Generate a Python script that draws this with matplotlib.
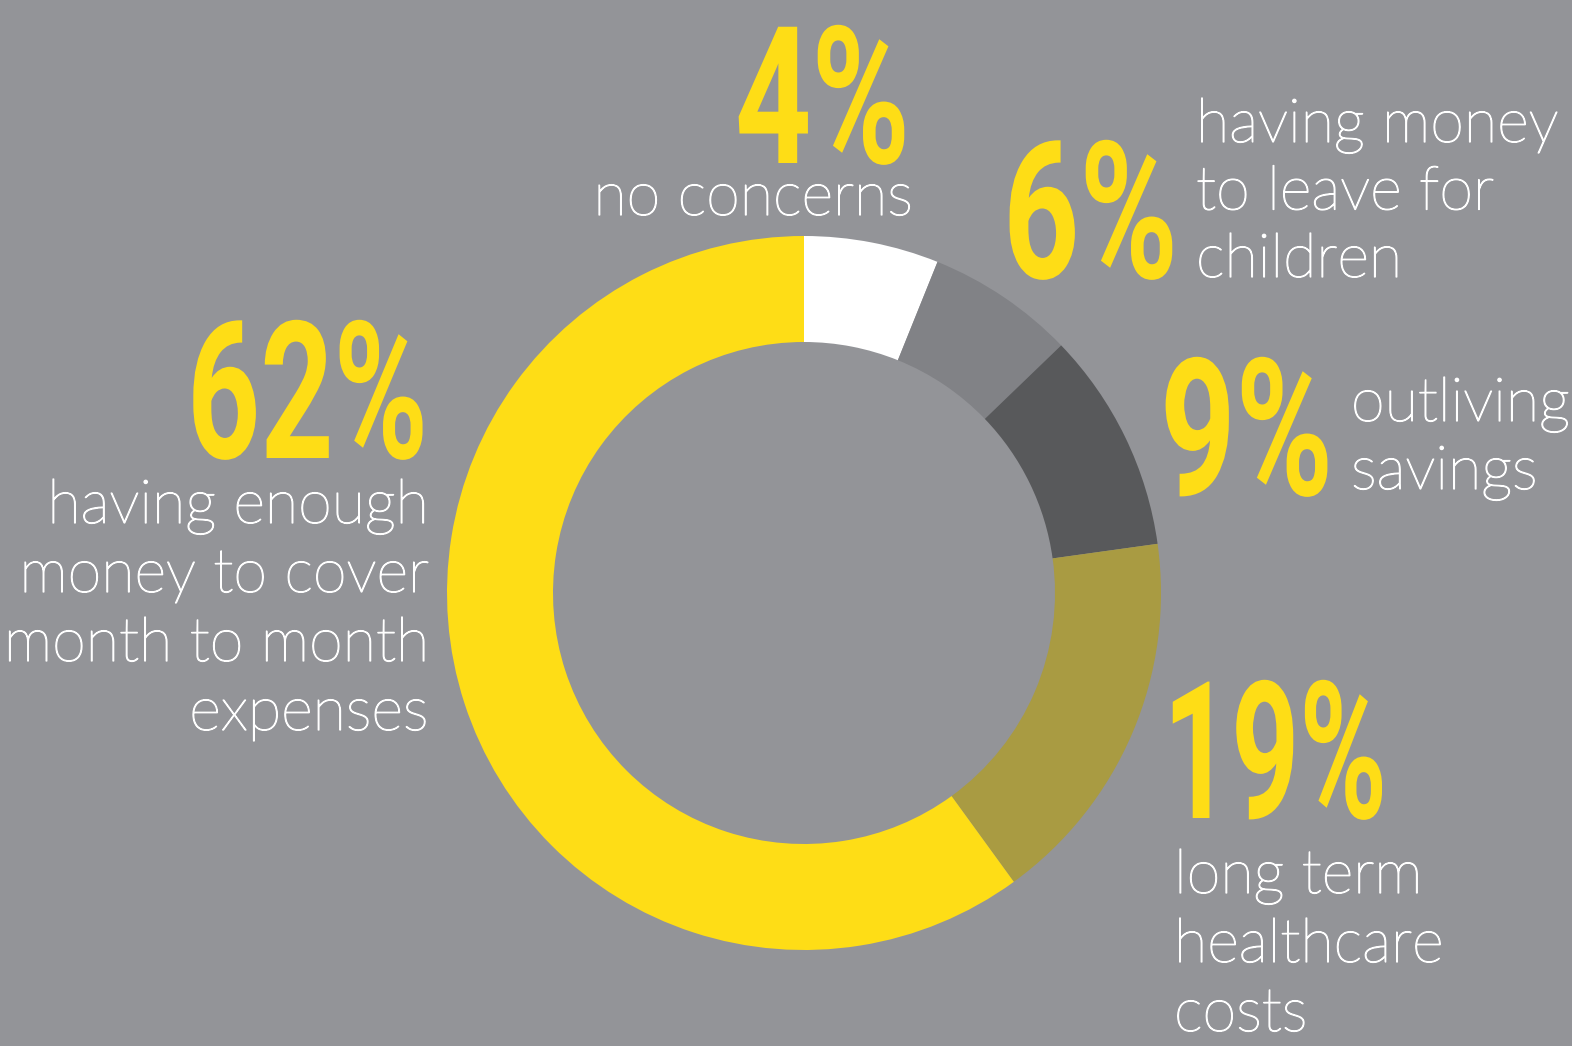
import matplotlib
matplotlib.use('Agg')
import matplotlib.pyplot as plt
from matplotlib import font_manager
from matplotlib import patheffects as pe
from matplotlib.patheffects import AbstractPathEffect
from matplotlib.transforms import Affine2D

# shares as drawn in the ring, clockwise from 12 o'clock
slice_names = ['no concerns', 'leave for children', 'outliving savings',
               'long term healthcare', 'month to month']
slice_share = [6.1, 6.7, 10.0, 17.2, 60.0]
slice_colors = ['#FFFFFF', '#818286', '#58595B', '#A99B42', '#FEDD16']

# printed labels
pct_labels = ['4%', '6%', '9%', '19%', '62%']
desc_labels = [
    ['no concerns'],
    ['having money', 'to leave for', 'children'],
    ['outliving', 'savings'],
    ['long term', 'healthcare', 'costs'],
    ['having enough', 'money to cover', 'month to month', 'expenses'],
]

BG = '#939498'
YELLOW = '#FEDD16'
W, H = 1572, 1046


def pick(cands, light=False):
    names = {}
    for f in font_manager.fontManager.ttflist:
        w = f.weight if isinstance(f.weight, int) else 400
        names.setdefault(f.name, []).append(w)
    for c in cands:
        if c in names:
            if not light or min(names[c]) <= 300:
                return c
    return 'DejaVu Sans'


NUM_FONT = pick(['Roboto', 'Inter', 'Open Sans', 'DejaVu Sans'])
TXT_FONT = pick(['Lato', 'Roboto', 'Inter', 'Open Sans', 'Noto Sans'], light=True)


class Squeeze(AbstractPathEffect):
    # narrows the glyph outlines horizontally around the anchor
    def __init__(self, sx, x0):
        super().__init__()
        self.sx = sx
        self.x0 = x0

    def draw_path(self, renderer, gc, tpath, affine, rgbFace=None):
        t = Affine2D().translate(-self.x0, 0).scale(self.sx, 1).translate(self.x0, 0)
        renderer.draw_path(gc, tpath, affine + t, rgbFace)


fig = plt.figure(figsize=(W / 100, H / 100), dpi=100, facecolor=BG)
ax = fig.add_axes([0, 0, 1, 1])
ax.set_aspect('equal')
ax.axis('off')
ax.set_facecolor(BG)

cx, cy = 804, H - 593
ax.pie(slice_share, colors=slice_colors, startangle=90, counterclock=False,
       center=(cx, cy), radius=357,
       wedgeprops=dict(width=106, linewidth=0, edgecolor='none'))
ax.set_xlim(0, W)
ax.set_ylim(0, H)

# big numbers: (right edge, baseline from top, wanted width)
num_pos = [(910, 163, 175), (1178, 278, 175), (1333, 495, 173),
           (1387, 818, 224), (428, 458, 241)]
num_texts = []
for lab, (xr, yb, wd) in zip(pct_labels, num_pos):
    t = ax.text(xr, H - yb, lab, ha='right', va='baseline', color=YELLOW,
                fontsize=138, fontweight='bold', family=NUM_FONT)
    num_texts.append((t, xr, wd))

# description blocks: (x, first baseline from top, line step, alignment)
desc_pos = [(913, 215, 68, 'right'), (1196, 142, 67.5, 'left'),
            (1351, 421, 68, 'left'), (1174, 893, 69, 'left'),
            (429, 523, 69, 'right')]
thick = [pe.withStroke(linewidth=0.9, foreground='white')]
for lines, (x, yb, step, al) in zip(desc_labels, desc_pos):
    for i, line in enumerate(lines):
        ax.text(x, H - (yb + i * step), line, ha=al, va='baseline',
                color='white', fontsize=44, fontweight='light',
                family=TXT_FONT, path_effects=thick)

fig.canvas.draw()
r = fig.canvas.get_renderer()
for t, xr, wd in num_texts:
    bb = t.get_window_extent(r)
    x0 = ax.transData.transform((xr, 0))[0]
    t.set_path_effects([Squeeze(wd / bb.width, x0)])

fig.savefig('out.png', dpi=100, facecolor=BG)
